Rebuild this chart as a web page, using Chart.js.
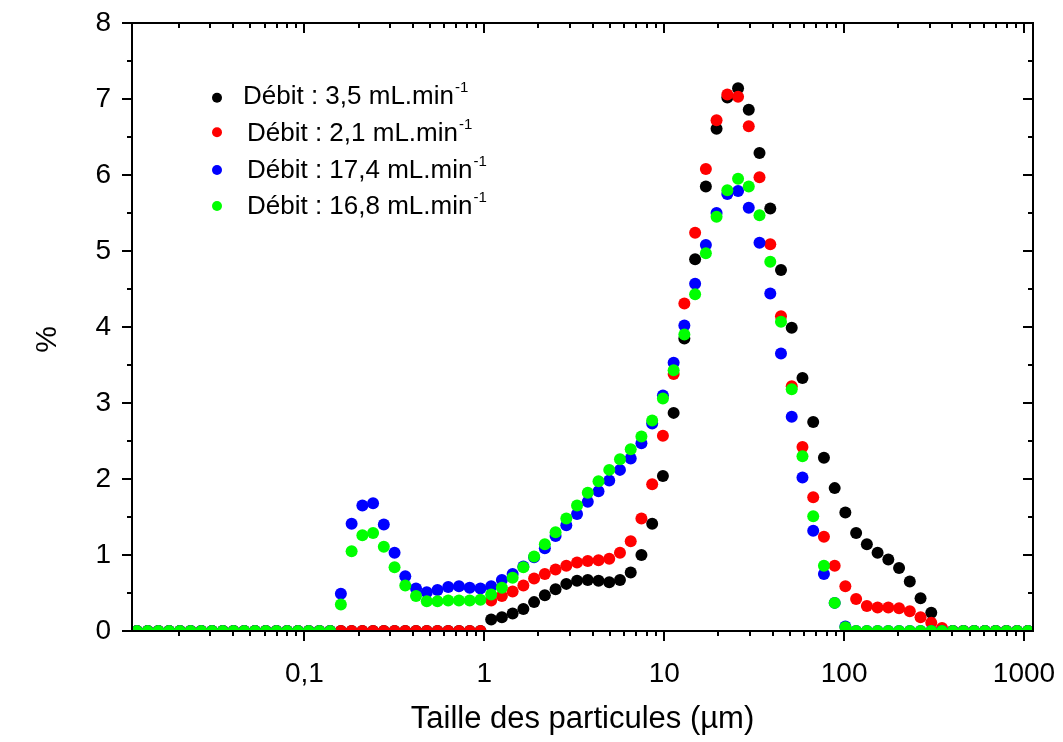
<!DOCTYPE html>
<html><head><meta charset="utf-8">
<script src="https://cdn.jsdelivr.net/npm/chart.js@4.4.1/dist/chart.umd.min.js"></script>
<style>html,body{margin:0;padding:0;background:#fff;}#wrap{width:1063px;height:742px;}</style>
</head><body><div id="wrap"><canvas id="c" width="1063" height="742"></canvas></div>
<script>
const sizes = [0.01172,0.01345,0.01542,0.01769,0.02030,0.02329,0.02672,0.03065,0.03517,0.04034,
0.04628,0.05310,0.06092,0.06989,0.08018,0.09203,0.1056,0.1211,0.1390,0.1594,
0.1829,0.2099,0.2407,0.2762,0.3169,0.3635,0.4171,0.4786,0.5490,0.6299,
0.7228,0.8291,0.9512,1.0914,1.2519,1.4365,1.6482,1.8906,2.1692,2.4889,
2.8560,3.2758,3.7584,4.3122,4.9466,5.6754,6.5117,7.4696,8.5704,9.8333,
11.28,12.94,14.85,17.04,19.54,22.43,25.73,29.51,33.86,38.86,
44.57,51.14,58.68,67.33,77.23,88.62,101.6,116.6,133.8,153.5,
176.1,202.1,231.8,266.0,305.1,350.1,401.7,460.8,528.7,606.6,
695.8,798.4,916.0,1050.5];

const debit35 = [0,0,0,0,0,0,0,0,0,0, 0,0,0,0,0,0,0,0,0,0, 0,0,0,0,0,0,0,0,0,0, 0,0,0,
0.15,0.18,0.23,0.29,0.38,0.47,0.55,0.62,0.66,0.67,0.66,0.64,0.67,0.77,1.00,1.41,2.04,
2.87,3.85,4.89,5.85,6.61,7.02,7.14,6.86,6.29,5.56,4.75,3.99,3.33,2.75,2.28,1.88,1.56,
1.29,1.14,1.03,0.94,0.83,0.65,0.43,0.24,
0,0,0,0,0,0,0,0,0];

const debit21 = [0,0,0,0,0,0,0,0,0,0, 0,0,0,0,0,0,0,0,0,0, 0,0,0,0,0,0,0,0,0,0, 0,0,0,
0.40,0.46,0.52,0.60,0.69,0.75,0.81,0.86,0.90,0.92,0.93,0.95,1.03,1.18,1.48,1.93,2.57,
3.38,4.31,5.24,6.08,6.72,7.06,7.03,6.64,5.97,5.09,4.14,3.22,2.42,1.76,1.24,0.86,0.59,
0.42,0.33,0.31,0.31,0.30,0.26,0.18,0.11,0.04,
0,0,0,0,0,0,0,0];

const debit174 = [0,0,0,0,0,0,0,0,0,0, 0,0,0,0,0,0,0,0,0,
0.49,1.41,1.65,1.68,1.40,1.03,0.72,0.56,0.51,0.54,0.58,0.59,0.57,0.56,0.59,0.67,0.75,
0.85,0.97,1.09,1.25,1.39,1.54,1.70,1.84,1.98,2.12,2.27,2.47,2.73,3.10,
3.53,4.02,4.57,5.08,5.50,5.75,5.79,5.57,5.11,4.44,3.65,2.82,2.02,1.32,0.75,0.37,0.06,
0,0,0,0,0,0,0,0,0,0,0,0,0,0,0,0,0];

const debit168 = [0,0,0,0,0,0,0,0,0,0, 0,0,0,0,0,0,0,0,0,
0.35,1.05,1.26,1.29,1.11,0.84,0.60,0.46,0.39,0.39,0.40,0.40,0.40,0.41,0.48,0.57,0.70,
0.84,0.98,1.14,1.30,1.48,1.65,1.82,1.97,2.12,2.26,2.39,2.56,2.77,3.06,
3.43,3.90,4.43,4.97,5.45,5.80,5.95,5.85,5.47,4.86,4.07,3.18,2.30,1.51,0.86,0.37,0.05,
0,0,0,0,0,0,0,0,0,0,0,0,0,0,0,0,0];

const seriesLabels = ['Débit : 3,5 mL.min⁻¹','Débit : 2,1 mL.min⁻¹','Débit : 17,4 mL.min⁻¹','Débit : 16,8 mL.min⁻¹'];
const seriesColors = ['#000000','#ff0000','#0000ff','#00ff00'];
const seriesValues = [debit35, debit21, debit174, debit168];
const xTickValues = [0.1, 1, 10, 100, 1000];
const xTickLabels = ['0,1','1','10','100','1000'];
const yTickValues = [0,1,2,3,4,5,6,7,8];
const xTitle = 'Taille des particules (µm)';
const yTitle = '%';

const FONT = "'Liberation Sans', Arial, sans-serif";

const framePlugin = {
  id: 'frame',
  afterDatasetsDraw(chart) {
    const {ctx, chartArea: {left, right, top, bottom}, scales: {x, y}} = chart;
    ctx.save();
    ctx.strokeStyle = '#000';
    ctx.lineWidth = 2;
    ctx.strokeRect(left, top, right - left, bottom - top);
    ctx.beginPath();
    for (let e = -2; e <= 3; e++) {
      for (let k = 1; k <= 9; k++) {
        const v = k * Math.pow(10, e);
        if (v < x.min || v > x.max) continue;
        const px = Math.round(x.getPixelForValue(v));
        const len = k === 1 ? 10 : 5;
        ctx.moveTo(px, bottom); ctx.lineTo(px, bottom + len);
        ctx.moveTo(px, top); ctx.lineTo(px, top + len);
      }
    }
    for (let v = 0; v <= 8; v += 0.5) {
      const py = Math.round(y.getPixelForValue(v));
      const len = Number.isInteger(v) ? 10 : 5;
      ctx.moveTo(left - len, py); ctx.lineTo(left, py);
      ctx.moveTo(right, py); ctx.lineTo(right - len, py);
    }
    ctx.stroke();
    ctx.restore();
  }
};

const legendPlugin = {
  id: 'insideLegend',
  afterDraw(chart) {
    const ctx = chart.ctx;
    const dotX = 217;
    const dotY = [97.7, 132.3, 170, 206];
    const textX = [243, 247, 247, 247];
    const baseY = [104, 140.5, 177.5, 214];
    ctx.save();
    chart.data.datasets.forEach((ds, i) => {
      ctx.fillStyle = ds.backgroundColor;
      ctx.beginPath();
      ctx.arc(dotX, dotY[i], 5, 0, Math.PI * 2);
      ctx.fill();
      const parts = ds.label.split('⁻¹');
      ctx.fillStyle = '#000';
      ctx.textBaseline = 'alphabetic';
      ctx.textAlign = 'left';
      ctx.font = '26px ' + FONT;
      ctx.fillText(parts[0], textX[i], baseY[i]);
      const w = ctx.measureText(parts[0]).width;
      ctx.font = '15px ' + FONT;
      ctx.fillText('-1', textX[i] + w + 1, baseY[i] - 12);
    });
    ctx.restore();
  }
};

const datasets = seriesValues.map((vals, i) => ({
  label: seriesLabels[i],
  data: vals.map((v, j) => ({x: sizes[j], y: v})),
  backgroundColor: seriesColors[i],
  borderColor: seriesColors[i],
  pointRadius: 6,
  pointHoverRadius: 6,
  pointBorderWidth: 0,
  showLine: false,
  clip: 0,
  order: 3 - i
}));

new Chart(document.getElementById('c'), {
  type: 'scatter',
  data: {datasets},
  options: {
    responsive: false,
    animation: false,
    devicePixelRatio: 1,
    layout: {padding: {left: 0, right: 30, top: 23, bottom: 0}},
    plugins: {legend: {display: false}, tooltip: {enabled: false}},
    scales: {
      x: {
        type: 'logarithmic',
        position: 'bottom',
        min: 0.011,
        max: 1122,
        afterBuildTicks: s => { s.ticks = xTickValues.map(v => ({value: v, major: true})); },
        afterFit: s => { s.height = 111; s.paddingLeft = 0; s.paddingRight = 0; },
        grid: {display: false, drawTicks: false},
        border: {display: false},
        ticks: {
          autoSkip: false, maxRotation: 0, color: '#000', padding: 26,
          font: {family: FONT, size: 28},
          callback: (v, idx) => xTickLabels[idx]
        },
        title: {display: true, text: xTitle, color: '#000', font: {family: FONT, size: 31}, padding: {top: 0, bottom: 4}}
      },
      y: {
        type: 'linear',
        min: 0, max: 8,
        afterBuildTicks: s => { s.ticks = yTickValues.map(v => ({value: v})); },
        afterFit: s => { s.width = 132; s.paddingTop = 0; s.paddingBottom = 0; },
        grid: {display: false, drawTicks: false},
        border: {display: false},
        ticks: {color: '#000', padding: 21, font: {family: FONT, size: 28}},
        title: {display: true, text: yTitle + '   ', color: '#000', font: {family: FONT, size: 30}, padding: {top: 30, bottom: 0}}
      }
    }
  },
  plugins: [framePlugin, legendPlugin]
});
</script></body></html>
